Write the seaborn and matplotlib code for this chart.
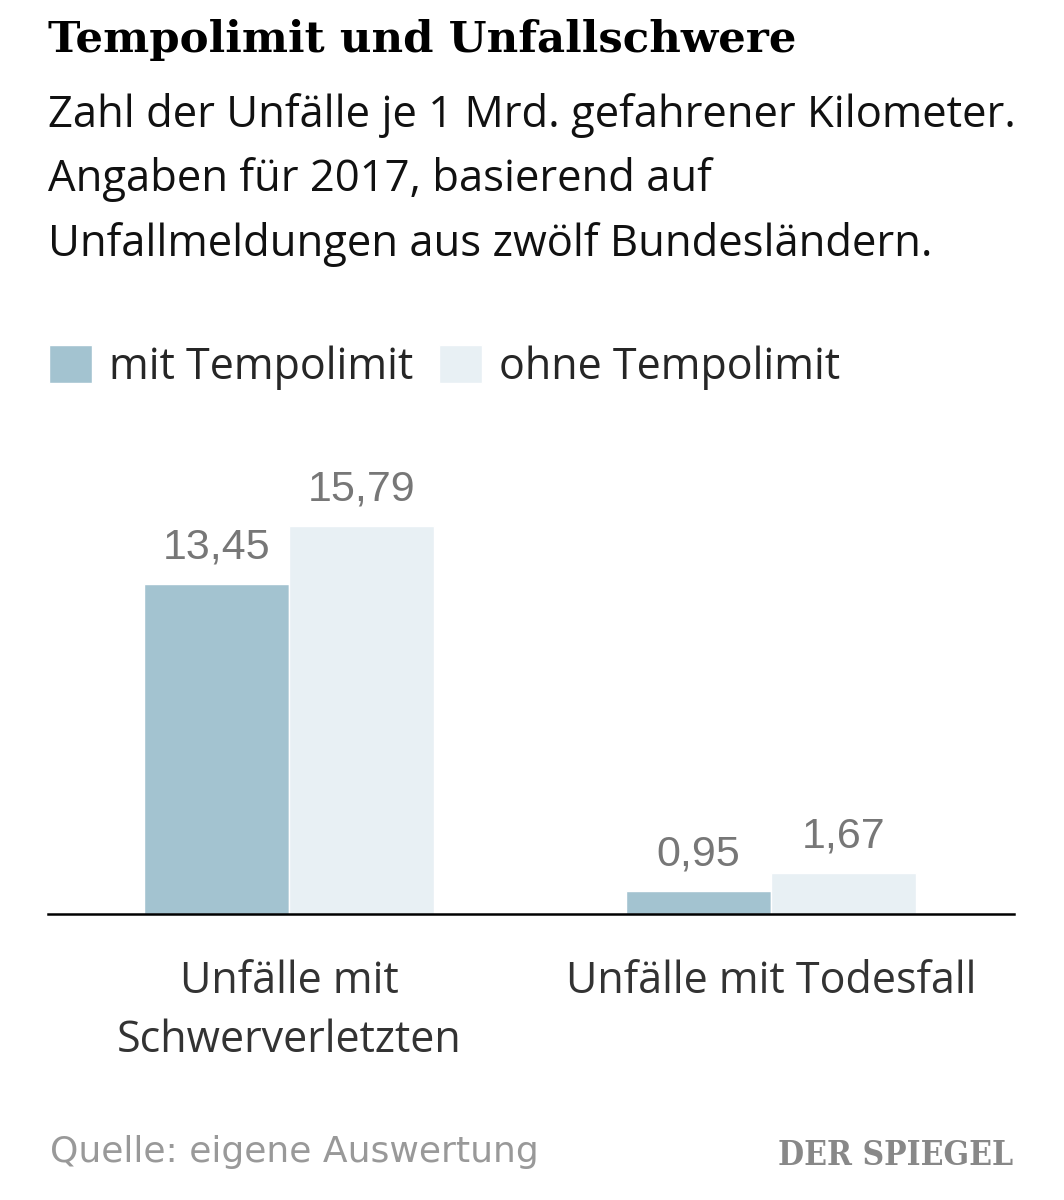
import numpy as np
import pandas as pd
import matplotlib
matplotlib.use("Agg")
import matplotlib.pyplot as plt
import seaborn as sns

categories = ["Unfälle mit\nSchwerverletzten", "Unfälle mit Todesfall"]
series = ["mit Tempolimit", "ohne Tempolimit"]
mit_tempolimit = [13.45, 0.95]
ohne_tempolimit = [15.79, 1.67]

colors = ["#a3c3d0", "#e8f0f4"]

W, H = 1064, 1200


def fx(px):
    return px / W


def fy(py):
    return 1 - py / H


def main():
    sns.set_theme(style="white")
    plt.rcParams["font.family"] = ["Open Sans", "DejaVu Sans"]

    df = pd.DataFrame({
        "kategorie": categories * 2,
        "serie": [series[0]] * 2 + [series[1]] * 2,
        "wert": mit_tempolimit + ohne_tempolimit,
    })

    fig = plt.figure(figsize=(W / 100, H / 100), dpi=100)
    ax = fig.add_axes([fx(48), 1 - 914 / H, fx(1014) - fx(48), 491 / H])

    sns.barplot(data=df, x="kategorie", y="wert", hue="serie",
                palette=colors, width=0.6, saturation=1, ax=ax)

    ax.set_xlim(-0.5, 1.504)
    ax.set_ylim(0, 20)
    ax.set_xlabel("")
    ax.set_ylabel("")
    ax.set_yticks([])
    for s in ["top", "right", "left"]:
        ax.spines[s].set_visible(False)
    ax.spines["bottom"].set_color("black")
    ax.spines["bottom"].set_linewidth(1.8)
    ax.tick_params(axis="x", length=0, pad=33, labelsize=31, labelcolor="#333333")
    for lab in ax.get_xticklabels():
        lab.set_linespacing(1.42)

    for cont in ax.containers:
        labels = [f"{v:.2f}".replace(".", ",") for v in cont.datavalues]
        ax.bar_label(cont, labels=labels, padding=12, fontsize=31,
                     color="#777777", family="Liberation Sans")

    sns.move_legend(ax, "upper left", bbox_to_anchor=(fx(10), fy(306)),
                    bbox_transform=fig.transFigure, ncol=2, frameon=False,
                    title=None, fontsize=31, handlelength=1.0,
                    handleheight=1.0, handletextpad=0.4, columnspacing=0.6)

    fig.text(fx(48), fy(52), "Tempolimit und Unfallschwere", fontsize=31.3,
             fontweight="bold", family="DejaVu Serif", color="black",
             va="baseline")
    sub = ("Zahl der Unfälle je 1 Mrd. gefahrener Kilometer.\n"
           "Angaben für 2017, basierend auf\n"
           "Unfallmeldungen aus zwölf Bundesländern.")
    fig.text(fx(48), fy(93), sub, fontsize=31.4, color="#111111", va="top",
             linespacing=1.57)

    fig.text(fx(50), fy(1162), "Quelle: eigene Auswertung", fontsize=26,
             color="#999999", family=["Liberation Sans Narrow", "DejaVu Sans"],
             va="baseline")
    fig.text(fx(1013), fy(1165), "DER SPIEGEL", fontsize=24, fontweight="bold",
             family="DejaVu Serif", color="#888888", ha="right", va="baseline",
             fontstretch="condensed")

    fig.savefig("out.png", dpi=100)


if __name__ == "__main__":
    main()
